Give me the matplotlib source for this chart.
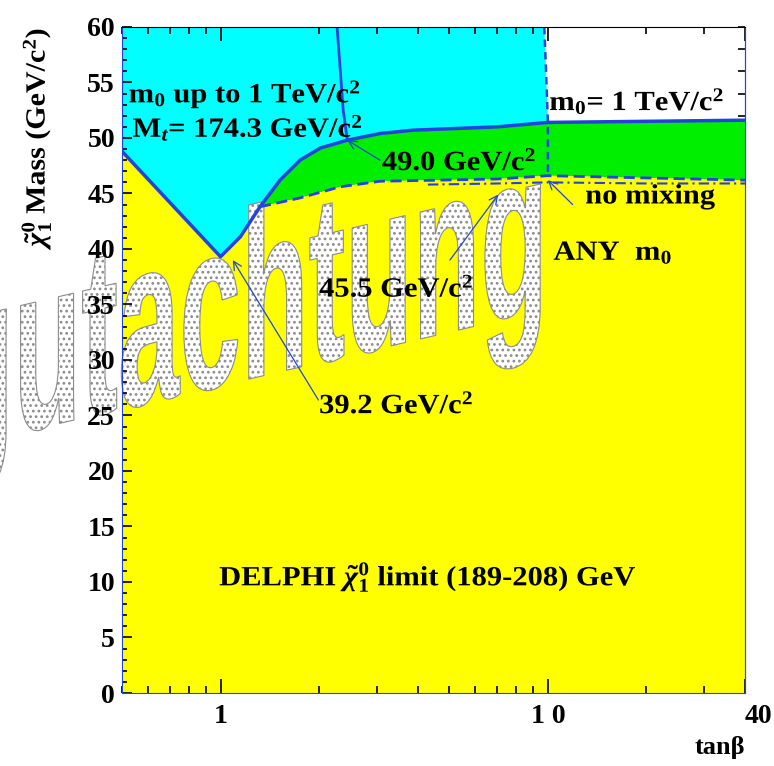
import matplotlib
matplotlib.use('Agg')
import matplotlib.pyplot as plt
import matplotlib.patheffects as pe
from matplotlib.transforms import Affine2D
from matplotlib.ticker import LogLocator, NullFormatter, MultipleLocator
import numpy as np

# V shaped part of the limit for m0 up to 1 TeV (tan beta, neutralino mass)
vee_x = [0.5, 1.0, 1.15, 1.32]
vee_y = [48.8, 39.3, 41.1, 43.8]
# upper limit curve (m0 up to 1 TeV / m0 = 1 TeV)
upper_x = [1.32, 1.52, 1.75, 2.02, 2.44, 3.07, 3.87, 7.0, 10.0, 20.0, 40.0]
upper_y = [43.8, 46.2, 48.0, 49.1, 49.8, 50.4, 50.7, 51.0, 51.4, 51.5, 51.6]
# limit for any m0 (bottom of the green band)
any_x = [1.32, 1.75, 2.32, 3.07, 7.0, 10.0, 20.0, 40.0]
any_y = [43.8, 44.6, 45.6, 46.1, 46.3, 46.6, 46.4, 46.2]
# no mixing curve
nomix_x = [4.3, 7.0, 10.0, 20.0, 40.0]
nomix_y = [45.8, 45.9, 46.0, 45.9, 45.9]
# boundaries of the m0 regions
solid_x = [2.27, 2.37, 2.44]
solid_y = [60.0, 52.5, 49.8]
dash_x = [9.75, 9.9, 10.0, 10.0]
dash_y = [60.0, 55.0, 51.4, 46.6]

xticks = [1, 10, 40]
xticklabels = ['1', '1 0', '40']

BLUE = '#2244dd'
CYAN = '#00ffff'
GREEN = '#00ee00'
YELLOW = '#ffff00'

plt.rcParams['font.family'] = ['Liberation Serif', 'DejaVu Serif']
plt.rcParams['font.weight'] = 'bold'
plt.rcParams['axes.labelweight'] = 'bold'
plt.rcParams['mathtext.fontset'] = 'custom'
plt.rcParams['mathtext.rm'] = 'Liberation Serif:bold'
plt.rcParams['mathtext.it'] = 'Liberation Serif:italic:bold'
plt.rcParams['mathtext.bf'] = 'Liberation Serif:bold'
plt.rcParams['hatch.linewidth'] = 1.2


class Stretch(pe.AbstractPathEffect):
    """widens the glyphs around the text origin"""

    def __init__(self, sx):
        super().__init__()
        self.sx = sx

    def draw_path(self, renderer, gc, tpath, affine, rgbFace=None):
        renderer.draw_path(gc, tpath, Affine2D().scale(self.sx, 1.0) + affine, rgbFace)


class Sheared(pe.PathPatchEffect):
    """squeezed, sheared and hatched text (upright letters, rising baseline)"""

    def __init__(self, sx, slope, **kwargs):
        super().__init__(**kwargs)
        self.sx = sx
        self.slope = slope

    def draw_path(self, renderer, gc, tpath, affine, rgbFace):
        shear = Affine2D(np.array([[self.sx, 0, 0],
                                   [self.sx * self.slope, 1, 0],
                                   [0, 0, 1]]))
        super().draw_path(renderer, gc, tpath, shear + affine, rgbFace)


fig = plt.figure(figsize=(7.74, 7.66), dpi=100)
ax = fig.add_axes([0.1576, 0.0953, 0.8049, 0.8695])
ax.set_xscale('log')
ax.set_xlim(0.5, 40)
ax.set_ylim(0, 60)

top = ax.get_ylim()[1]
# cyan: excluded for m0 up to 1 TeV
n10 = upper_x.index(10.0) + 1
cyan_x = vee_x + upper_x[1:n10] + dash_x[:2][::-1] + [vee_x[0]]
cyan_y = vee_y + upper_y[1:n10] + dash_y[:2][::-1] + [top]
ax.fill(cyan_x, cyan_y, color=CYAN, lw=0, zorder=1)
# green: between the two limits
ax.fill(upper_x + any_x[::-1], upper_y + any_y[::-1], color=GREEN, lw=0, zorder=1)
# yellow: excluded for any m0
yel_x = vee_x + any_x[1:] + [any_x[-1], vee_x[0]]
yel_y = vee_y + any_y[1:] + [0, 0]
ax.fill(yel_x, yel_y, color=YELLOW, lw=0, zorder=1)

ax.plot(vee_x + upper_x[1:], vee_y + upper_y[1:], color=BLUE, lw=2.5, zorder=2)
ax.plot(any_x, any_y, color=BLUE, lw=2, ls=(0, (4, 2)), zorder=2)
ax.plot(nomix_x, nomix_y, color=BLUE, lw=1.5, ls=(0, (5, 2, 1, 2)), zorder=2)
ax.plot(solid_x, solid_y, color=BLUE, lw=2, zorder=2)
ax.plot(dash_x, dash_y, color=BLUE, lw=1.8, ls=(0, (3, 2)), zorder=2)

# arrows from the labels
arrow_kw = dict(arrowstyle='->,head_length=0.6,head_width=0.3', color=BLUE, lw=0.9,
                shrinkA=0, shrinkB=0)
ax.annotate('', xy=(2.44, 49.8), xytext=(3.07, 48.0), arrowprops=arrow_kw)
ax.annotate('', xy=(1.09, 39.0), xytext=(1.99, 26.4), arrowprops=arrow_kw)
ax.annotate('', xy=(7.05, 44.9), xytext=(5.02, 39.0), arrowprops=arrow_kw)
ax.annotate('', xy=(10.0, 46.2), xytext=(11.9, 44.0), arrowprops=arrow_kw)

fs = 20
wide = [Stretch(1.1)]
labels = [
    (0.524, 53.2, r'm$_0$ up to 1 TeV/c$^2$'),
    (0.538, 50.1, r'M$_t$= 174.3 GeV/c$^2$'),
    (10.1, 52.5, r'm$_0$= 1 TeV/c$^2$'),
    (3.11, 47.1, r'49.0 GeV/c$^2$'),
    (13.0, 44.1, 'no mixing'),
    (10.4, 39.0, r'ANY  m$_0$'),
    (2.0, 35.7, r'45.5 GeV/c$^2$'),
    (2.0, 25.2, r'39.2 GeV/c$^2$'),
    (0.99, 9.7, r'DELPHI $\tilde{\chi}_1^0$ limit (189-208) GeV'),
]
for x, y, s in labels:
    ax.text(x, y, s, fontsize=fs, zorder=3, path_effects=wide)

# watermark
ax.text(-0.252, 0.3695, 'Begutachtung', transform=fig.transFigure,
        fontsize=173, family='Liberation Sans', weight='bold',
        ha='left', va='baseline', clip_on=False, zorder=1.5,
        path_effects=[Sheared(0.46, 0.234, facecolor='white', edgecolor='#8c8c8c',
                              hatch='...', lw=0.8)])

# axes and ticks
ax.set_xticks(xticks, xticklabels)
ax.xaxis.set_minor_locator(LogLocator(base=10, subs=np.arange(2, 10)))
ax.xaxis.set_minor_formatter(NullFormatter())
ax.yaxis.set_major_locator(MultipleLocator(5))
ax.yaxis.set_minor_locator(MultipleLocator(1))
ax.tick_params(axis='both', which='both', direction='in', top=True, right=False,
               labelsize=20, width=1.2)
ax.tick_params(axis='x', which='major', length=10, pad=8)
ax.tick_params(axis='x', which='minor', length=5)
ax.tick_params(axis='y', which='major', length=7, pad=5)
ax.tick_params(axis='y', which='minor', length=3.5)
ax.get_xticklabels()[-1].set_ha('left')

sec = ax.secondary_yaxis('right')
sec.set_yticks(np.arange(0, 61, 2))
sec.tick_params(direction='in', length=5, labelright=False, width=1.2)
sec.spines['right'].set_color(BLUE)

for side in ['left', 'bottom', 'right']:
    ax.spines[side].set_color(BLUE)

ylab = ax.set_ylabel(r'$\tilde{\chi}_1^0$ Mass (GeV/c$^2$)', fontsize=20, loc='bottom')
ylab.set_path_effects([Stretch(1.08)])
ax.yaxis.set_label_coords(-0.11, 0.67)
ax.set_xlabel('tanβ', fontsize=19, loc='right')
ax.xaxis.set_label_coords(1.0, -0.065)

fig.savefig('out.png', dpi=100)
